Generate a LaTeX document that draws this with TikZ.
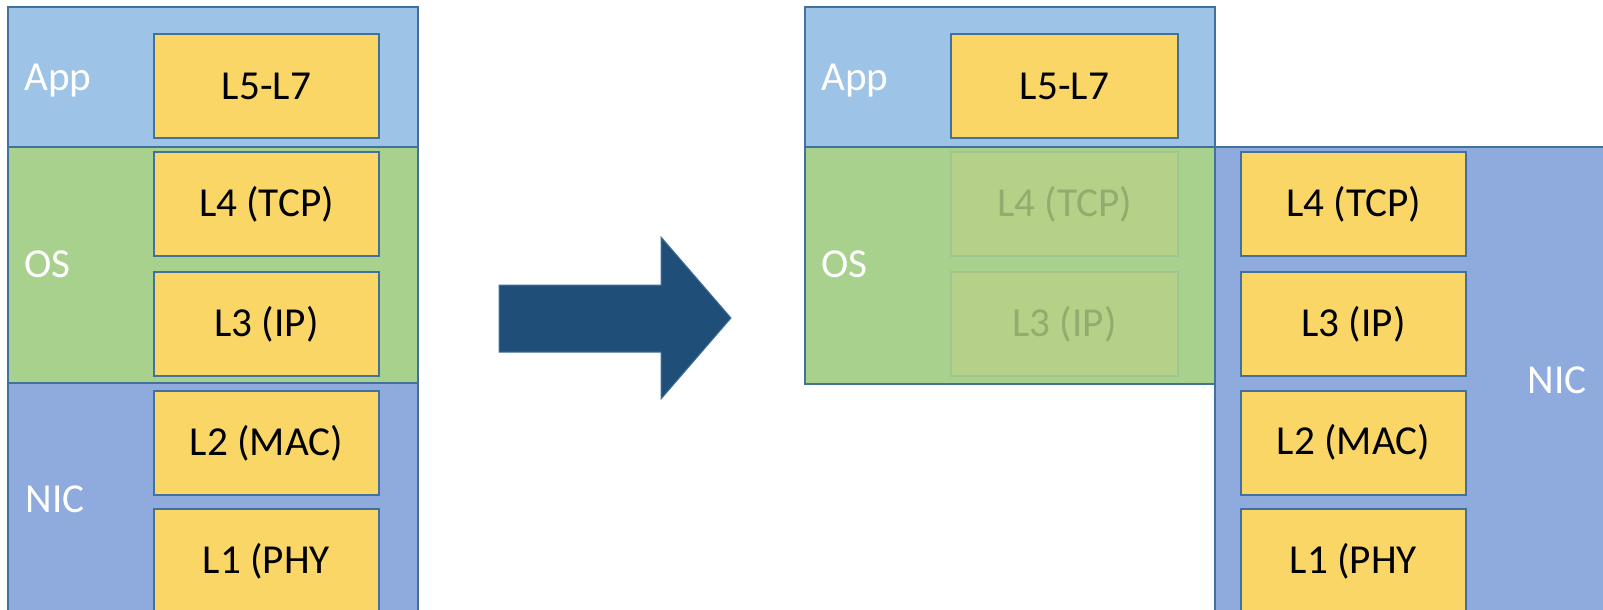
\documentclass[tikz,border=0pt]{standalone}
\usepackage{fontspec}
\setmainfont{Carlito}
\definecolor{appc}{HTML}{9DC3E6}
\definecolor{osc}{HTML}{A9D18E}
\definecolor{nicc}{HTML}{8FAADC}
\definecolor{yel}{HTML}{FAD666}
\definecolor{edge}{HTML}{41719C}
\definecolor{arr}{HTML}{1F4E79}
\begin{document}
\begin{tikzpicture}[x=0.5pt,y=-0.5pt,
  layer/.style={draw=edge,line width=1pt,anchor=north west,inner sep=0pt,outer sep=0pt},
  proto/.style={draw=edge,line width=1pt,fill=yel,minimum width=112.5pt,minimum height=52pt,inner sep=0pt,
     font=\fontsize{20.6}{24}\selectfont},
  ghost/.style={proto,fill opacity=0.15,draw opacity=0.12,text opacity=0.18},
  lbl/.style={anchor=base west,text=white,inner sep=0pt,font=\fontsize{20.6}{24}\selectfont}]
\useasboundingbox (0,0) rectangle (1603,610);
\fill[white] (0,0) rectangle (1603,610);
\clip (0,0) rectangle (1603,610);
% left stack
\node[layer,fill=appc,minimum width=205pt,minimum height=70pt] (lapp) at (8,7) {};
\node[layer,fill=osc,minimum width=205pt,minimum height=118pt] (los) at (8,147) {};
\node[layer,fill=nicc,minimum width=205pt,minimum height=125pt] (lnic) at (8,383) {};
\node[lbl] (lappt) at (24,91) {App};
\node[lbl] (lost) at (24,278) {OS};
\node[lbl] (lnict) at (25,512) {NIC};
\node[proto] (l7) at (266.5,86) {L5-L7};
\node[proto] (l4) at (266.5,204.5) {L4 (TCP)};
\node[proto] (l3) at (266.5,324) {L3 (IP)};
\node[proto] (l2) at (266.5,443) {L2 (MAC)};
\node[proto] (l1) at (266.5,561) {L1 (PHY};
% arrow
\draw[fill=arr,draw=edge,line width=0.5pt] (499,285) -- (661,285) -- (661,237) -- (731,318)
  -- (661,399) -- (661,352) -- (499,352) -- cycle;
% right stack
\node[layer,fill=appc,minimum width=205pt,minimum height=70pt] (rapp) at (805,7) {};
\node[layer,fill=osc,minimum width=205pt,minimum height=118.5pt] (ros) at (805,147) {};
\node[layer,fill=nicc,minimum width=215pt,minimum height=240pt] (rnic) at (1215,147) {};
\node[lbl] (rappt) at (821,91) {App};
\node[lbl] (rost) at (821,278) {OS};
\node[lbl] (rnict) at (1527,393) {NIC};
\node[proto,minimum width=113.5pt] (r7) at (1064.5,86) {L5-L7};
\node[ghost,minimum width=113.5pt] (g4) at (1064.5,204.5) {L4 (TCP)};
\node[ghost,minimum width=113.5pt] (g3) at (1064.5,324) {L3 (IP)};
\node[proto] (r4) at (1353.5,204) {L4 (TCP)};
\node[proto] (r3) at (1353.5,324) {L3 (IP)};
\node[proto] (r2) at (1353.5,442.5) {L2 (MAC)};
\node[proto] (r1) at (1353.5,561) {L1 (PHY};
\end{tikzpicture}
\end{document}
